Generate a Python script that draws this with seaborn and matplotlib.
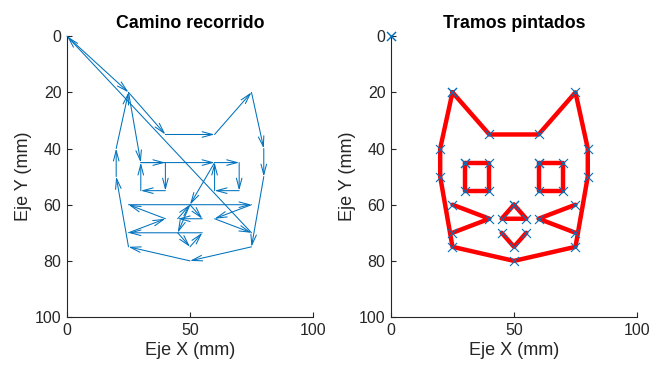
import numpy as np
import pandas as pd
import seaborn as sns
import matplotlib.pyplot as plt

# trazos del gato (mm), en el orden en que se pintan
contorno_x = [25, 40, 60, 75, 80, 80, 75, 50, 25, 20, 20, 25]
contorno_y = [20, 35, 35, 20, 40, 50, 75, 80, 75, 50, 40, 20]
ojo_izq_x = [30, 40, 40, 30, 30]
ojo_izq_y = [45, 45, 55, 55, 45]
ojo_der_x = [60, 70, 70, 60, 60]
ojo_der_y = [45, 45, 55, 55, 45]
nariz_x = [50, 55, 45, 50]
nariz_y = [60, 65, 65, 60]
boca_x = [45, 50, 55]
boca_y = [70, 75, 70]
bigote_izq_x = [25, 40, 25]
bigote_izq_y = [70, 65, 60]
bigote_der_x = [75, 60, 75]
bigote_der_y = [60, 65, 70]
origen_x = [0]
origen_y = [0]

trazos = [(contorno_x, contorno_y), (ojo_izq_x, ojo_izq_y), (ojo_der_x, ojo_der_y),
          (nariz_x, nariz_y), (boca_x, boca_y), (bigote_izq_x, bigote_izq_y),
          (bigote_der_x, bigote_der_y)]

filas = []
for i, (xs, ys) in enumerate(trazos):
    for k, (x, y) in enumerate(zip(xs, ys)):
        filas.append({'trazo': i, 'orden': k, 'x': x, 'y': y})
df = pd.DataFrame(filas)

# camino completo: sale del origen, recorre los trazos y vuelve
camino_x = origen_x + [x for xs, _ in trazos for x in xs] + origen_x
camino_y = origen_y + [y for _, ys in trazos for y in ys] + origen_y
camino = pd.DataFrame({'x': camino_x, 'y': camino_y})

sns.set_style("white")
plt.rcParams['font.family'] = ['Liberation Sans', 'DejaVu Sans']

azul = '#0072BD'
gris = '#262626'

fig = plt.figure(figsize=(6.6, 3.73), dpi=100)
ax1 = fig.add_axes([0.1015, 0.150, 0.3727, 0.753])
ax2 = fig.add_axes([0.5924, 0.150, 0.3727, 0.753])

########## camino recorrido ##########
for i in range(len(camino) - 1):
    ax1.annotate('', xy=(camino.x[i + 1], camino.y[i + 1]), xytext=(camino.x[i], camino.y[i]),
                 arrowprops=dict(arrowstyle='->,head_length=0.75,head_width=0.2',
                                 color=azul, lw=0.75, shrinkA=0, shrinkB=0))

########## tramos pintados ##########
sns.lineplot(data=df, x='x', y='y', units='trazo', estimator=None, sort=False,
             color='red', lw=3.2, ax=ax2, legend=False)
sns.scatterplot(data=camino, x='x', y='y', marker='x', color=azul, s=42,
                linewidth=0.8, ax=ax2, zorder=3, legend=False, clip_on=False)

for ax, titulo in [(ax1, 'Camino recorrido'), (ax2, 'Tramos pintados')]:
    ax.set_xlim(0, 100)
    ax.set_ylim(100, 0)
    ax.set_xticks([0, 50, 100])
    ax.set_yticks([0, 20, 40, 60, 80, 100])
    ax.tick_params(direction='in', length=3.5, width=0.8, colors=gris,
                   labelsize=11.5, pad=4, top=False, right=False, left=True, bottom=True)
    for lado in ['top', 'right']:
        ax.spines[lado].set_visible(False)
    for lado in ['left', 'bottom']:
        ax.spines[lado].set_color(gris)
        ax.spines[lado].set_linewidth(0.8)
    ax.set_title(titulo, fontsize=12.8, fontweight='bold', color='black', pad=6)
    ax.set_xlabel('Eje X (mm)', fontsize=13, color=gris, labelpad=3)
    ax.set_ylabel('Eje Y (mm)', fontsize=13, color=gris, labelpad=2)
    ax.set_facecolor('white')

plt.savefig('out.png', dpi=100)
